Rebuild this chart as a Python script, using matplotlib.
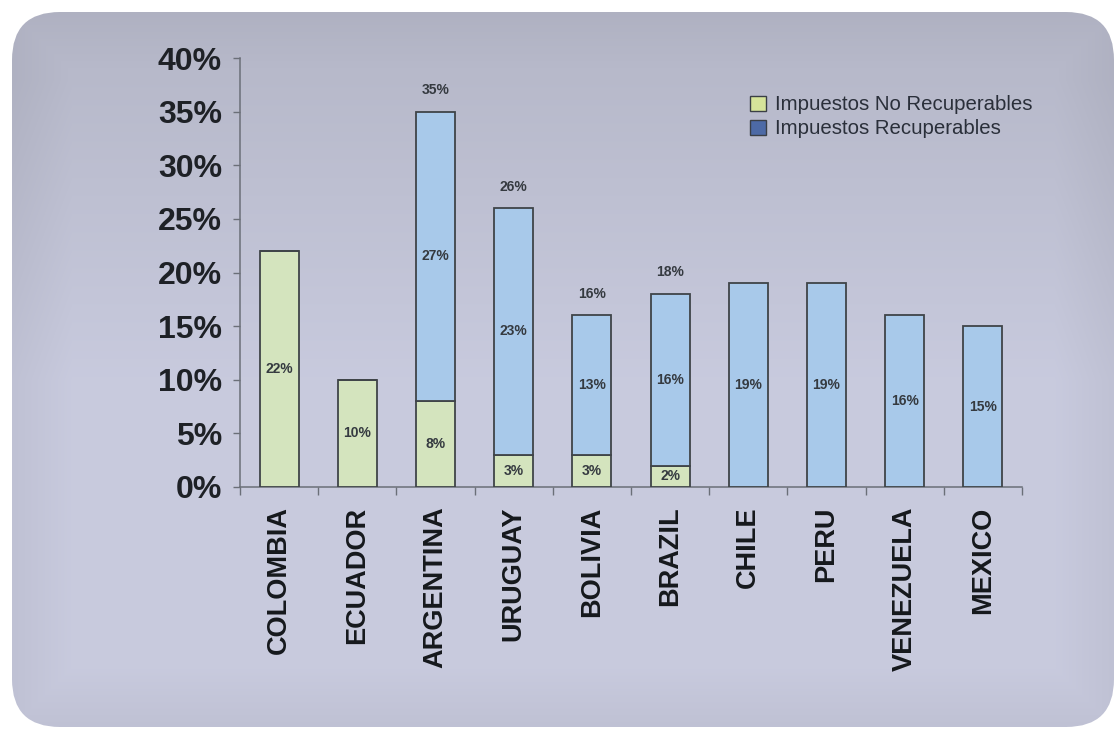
import numpy as np
import matplotlib
matplotlib.use("Agg")
import matplotlib.pyplot as plt
from matplotlib.patches import FancyBboxPatch, Patch
from matplotlib.ticker import MultipleLocator, FuncFormatter

plt.rcParams["font.family"] = ["Liberation Sans", "DejaVu Sans"]

# Data
countries = ["COLOMBIA", "ECUADOR", "ARGENTINA", "URUGUAY", "BOLIVIA",
             "BRAZIL", "CHILE", "PERU", "VENEZUELA", "MEXICO"]
no_recuperables = [22, 10, 8, 3, 3, 2, 0, 0, 0, 0]
recuperables = [0, 0, 27, 23, 13, 16, 19, 19, 16, 15]
totales_mostrados = {"ARGENTINA": 35, "URUGUAY": 26, "BOLIVIA": 16, "BRAZIL": 18}
legend_labels = ["Impuestos No Recuperables", "Impuestos Recuperables"]

green = "#d4e4be"
blue = "#a8c9ea"
edge = "#3f4448"

W, H = 1118, 732
fig = plt.figure(figsize=(W / 100, H / 100), dpi=100)
fig.patch.set_facecolor("white")

# Rounded panel with a soft gradient behind the chart
bg = fig.add_axes([0, 0, 1, 1], zorder=-5)
bg.set_xlim(0, W)
bg.set_ylim(H, 0)
bg.axis("off")
yy, xx = np.mgrid[0:H, 0:W]
top = np.array([0.720, 0.728, 0.795])
mid = np.array([0.785, 0.793, 0.870])
t = np.clip((yy - 80) / 300.0, 0, 1)[..., None]
img = top * (1 - t) + mid * t
# slightly darker rim near the edges of the panel
dx = np.minimum(xx - 12, 1114 - xx)
dy = np.minimum(yy - 12, 727 - yy)
d = np.clip(np.minimum(dx, dy) / 60.0, 0, 1)[..., None]
img = img * (0.955 + 0.045 * d)
img = np.clip(img, 0, 1)
panel = FancyBboxPatch((12, 12), 1102, 715,
                       boxstyle="round,pad=0,rounding_size=48",
                       facecolor="none", edgecolor="none",
                       transform=bg.transData)
bg.add_patch(panel)
im = bg.imshow(img, extent=[0, W, H, 0], aspect="auto", interpolation="bilinear")
im.set_clip_path(panel)

# Main chart
ax = fig.add_axes([240 / W, 1 - 487 / H, 782 / W, 429 / H])
ax.set_facecolor("none")
x = np.arange(len(countries))
width = 0.5
ax.bar(x, no_recuperables, width, color=green, edgecolor=edge, linewidth=1.3, zorder=3)
ax.bar(x, recuperables, width, bottom=no_recuperables, color=blue,
       edgecolor=edge, linewidth=1.3, zorder=3)

lab_kw = dict(ha="center", va="center", fontsize=10, fontweight="bold",
              color="#353a40", zorder=4)
for i, c in enumerate(countries):
    g, b = no_recuperables[i], recuperables[i]
    if g > 0:
        ax.text(i, g / 2, f"{g}%", **lab_kw)
    if b > 0:
        ax.text(i, g + b / 2, f"{b}%", **lab_kw)
    if c in totales_mostrados:
        ax.text(i, g + b + 2.0, f"{totales_mostrados[c]}%", **lab_kw)

ax.set_xlim(-0.5, len(countries) - 0.5)
ax.set_ylim(0, 40)
ax.yaxis.set_major_locator(MultipleLocator(5))
ax.yaxis.set_major_formatter(FuncFormatter(lambda v, p: f"{v:.0f}%"))
ax.set_xticks(np.arange(-0.5, len(countries), 1.0))
ax.set_xticklabels([])
ax.set_xticks(x, minor=True)
ax.set_xticklabels(countries, minor=True, rotation=90, fontsize=19.5,
                   fontweight="bold", color="#15181c")
ax.tick_params(axis="x", which="minor", length=0, pad=14)
ax.tick_params(axis="x", which="major", length=6, color="#6b6f78", width=1)
ax.tick_params(axis="y", length=5, color="#6b6f78", width=1, labelsize=23,
               labelcolor="#1e2126", pad=8)
for lab in ax.get_yticklabels():
    lab.set_fontweight("bold")
for s in ["top", "right"]:
    ax.spines[s].set_visible(False)
for s in ["left", "bottom"]:
    ax.spines[s].set_color("#6b6f78")
    ax.spines[s].set_linewidth(1.1)

handles = [Patch(facecolor="#d6e49a", edgecolor="#3a3f46", linewidth=1.0),
           Patch(facecolor="#4d6aa6", edgecolor="#3a3f46", linewidth=1.0)]
fig.legend(handles, legend_labels, loc="upper left",
           bbox_to_anchor=(740 / W, 1 - 85 / H), frameon=False,
           fontsize=14.7, handlelength=0.75, handleheight=0.75,
           handletextpad=0.45, labelspacing=0.25, borderpad=0,
           labelcolor="#2a2f3a")

fig.savefig("out.png", dpi=100)
